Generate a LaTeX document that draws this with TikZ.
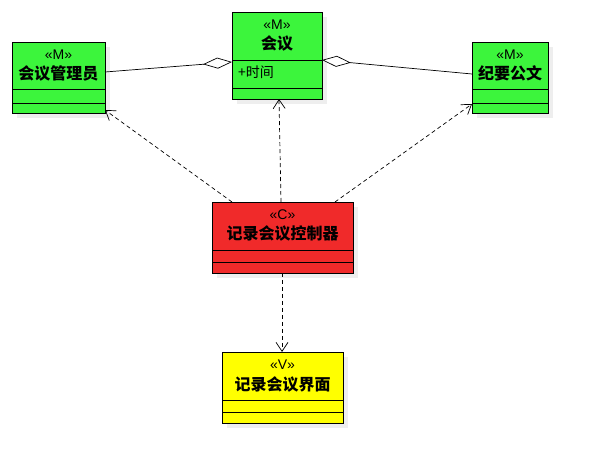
\documentclass[tikz,border=0pt]{standalone}
\usepackage{fontspec}
\setmainfont{Noto Sans CJK SC}
\newfontfamily\stfont{Liberation Sans}
\usetikzlibrary{arrows.meta,calc}
\definecolor{mgreen}{RGB}{60,245,60}
\definecolor{cred}{RGB}{240,42,42}
\definecolor{vyellow}{RGB}{255,255,0}
\definecolor{shad}{RGB}{238,238,238}
\tikzset{
  box/.style={draw, line width=0.8pt, anchor=north west, inner sep=0pt, outer sep=0pt},
  shadowbox/.style={fill=shad, draw=none},
  stereo/.style={font=\stfont\fontsize{14}{15}\selectfont, inner sep=0pt},
  cname/.style={font=\fontsize{16}{18}\selectfont\bfseries, inner sep=0pt},
  attr/.style={font=\fontsize{14}{16}\selectfont, inner sep=0pt, anchor=west},
  divider/.style={line width=0.8pt},
  agg/.style={line width=0.7pt, {Diamond[length=29pt,width=11pt,fill=white,line width=0.7pt]}-},
  dep/.style={line width=0.7pt, dash pattern=on 4pt off 3pt, -{Straight Barb[length=9pt,width=12pt,line width=0.7pt]}}
}
\begin{document}
\begin{tikzpicture}[x=1pt,y=-1pt]
\useasboundingbox (0,0) rectangle (598,473);
% shadows
\fill[shadowbox] (17,47) rectangle (110,118);
\fill[shadowbox] (237,17) rectangle (327,104);
\fill[shadowbox] (477,47) rectangle (553,118);
\fill[shadowbox] (217,207) rectangle (358,278);
\fill[shadowbox] (227,357) rectangle (348,428);
% boxes
\node[box, fill=mgreen, minimum width=93pt, minimum height=71pt] (a) at (12,42) {};
\node[box, fill=mgreen, minimum width=90pt, minimum height=87pt] (b) at (232,12) {};
\node[box, fill=mgreen, minimum width=76pt, minimum height=71pt] (c) at (472,42) {};
\node[box, fill=cred, minimum width=141pt, minimum height=71pt] (d) at (212,202) {};
\node[box, fill=vyellow, minimum width=121pt, minimum height=71pt] (e) at (222,352) {};
% dividers
\draw[divider] (12,89.5) -- (105,89.5) (12,103) -- (105,103);
\draw[divider] (232,60) -- (322,60) (232,88) -- (322,88);
\draw[divider] (472,89.5) -- (548,89.5) (472,103) -- (548,103);
\draw[divider] (212,250) -- (353,250) (212,262) -- (353,262);
\draw[divider] (222,400) -- (343,400) (222,412) -- (343,412);
% texts
\node[stereo] (as) at (58.5,55) {«M»};
\node[cname] (an) at (58.5,73) {会议管理员};
\node[stereo] (bs) at (277,25) {«M»};
\node[cname] (bn) at (277,43) {会议};
\node[attr] (ba) at (238,72) {+时间};
\node[stereo] (cs) at (510,55) {«M»};
\node[cname] (cn) at (510,73) {纪要公文};
\node[stereo] (ds) at (282.5,215) {«C»};
\node[cname] (dn) at (282.5,233) {记录会议控制器};
\node[stereo] (es) at (282.5,365) {«V»};
\node[cname] (en) at (282.5,384) {记录会议界面};
% aggregations
\draw[agg] ($(b.north west)+(0,50)$) -- ($(a.north east)+(0,30)$);
\draw[agg] ($(b.north east)+(0,48)$) -- ($(c.north west)+(0,32)$);
% dependencies
\draw[dep] ($(d.north west)+(20,0)$) -- ($(a.south east)+(0,-3)$);
\draw[dep] ($(d.north west)+(69,0)$) -- ($(b.south west)+(47,0)$);
\draw[dep] ($(d.north west)+(123,0)$) -- ($(c.south west)+(0,-9)$);
\draw[dep] ($(d.south west)+(70,0)$) -- ($(e.north west)+(60,0)$);
\end{tikzpicture}
\end{document}
